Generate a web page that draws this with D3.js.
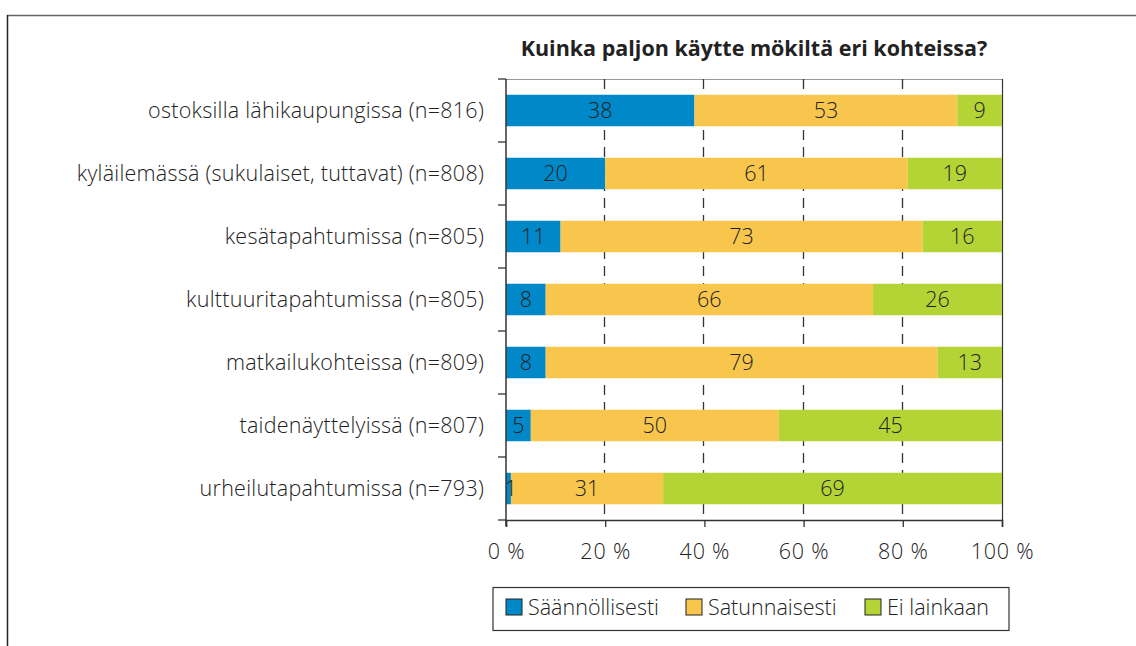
<!DOCTYPE html>
<html>
<head>
<meta charset="utf-8">
<script src="https://cdn.jsdelivr.net/npm/d3@7"></script>
<style>
  body { margin: 0; background: #fff; }
  svg { display: block; font-family: "Open Sans", "Noto Sans", sans-serif; }
</style>
</head>
<body>
<svg id="chart" width="1136" height="646"></svg>
<script>
// Kuinka paljon käytte mökiltä eri kohteissa? -- stacked 100 % bars

var title = "Kuinka paljon käytte mökiltä eri kohteissa?";

var categories = [
  "ostoksilla lähikaupungissa (n=816)",
  "kyläilemässä (sukulaiset, tuttavat) (n=808)",
  "kesätapahtumissa (n=805)",
  "kulttuuritapahtumissa (n=805)",
  "matkailukohteissa (n=809)",
  "taidenäyttelyissä (n=807)",
  "urheilutapahtumissa (n=793)"
];

var seriesNames = ["Säännöllisesti", "Satunnaisesti", "Ei lainkaan"];
var saannollisesti = [38, 20, 11, 8, 8, 5, 1];
var satunnaisesti = [53, 61, 73, 66, 79, 50, 31];
var eiLainkaan = [9, 19, 16, 26, 13, 45, 69];

var xTicks = [0, 0.2, 0.4, 0.6, 0.8, 1];

var colors = ["#0088c9", "#f8c64d", "#b4d335"];

var svg = d3.select("#chart");

// outer frame (only top and left edges fall inside the picture)
svg.append("line").attr("x1", 7).attr("y1", 15.5).attr("x2", 1136).attr("y2", 15.5)
  .attr("stroke", "#666").attr("stroke-width", 1.5);
svg.append("line").attr("x1", 7.5).attr("y1", 15).attr("x2", 7.5).attr("y2", 646)
  .attr("stroke", "#222").attr("stroke-width", 1.5);

var plotL = 506, plotR = 1002, plotT = 79, plotB = 520;
var labelSize = 21.5, labelWeight = 300, labelSpacing = 0.25;

var rows = categories.map(function(c, i) {
  var r = { cat: c };
  r[seriesNames[0]] = saannollisesti[i];
  r[seriesNames[1]] = satunnaisesti[i];
  r[seriesNames[2]] = eiLainkaan[i];
  return r;
});

var stacked = d3.stack().keys(seriesNames).offset(d3.stackOffsetExpand)(rows);

var x = d3.scaleLinear().domain([0, 1]).range([plotL, plotR]);
var y = d3.scaleBand().domain(categories).range([plotT, plotB]).paddingInner(0.5).paddingOuter(0.25);
var color = d3.scaleOrdinal().domain(seriesNames).range(colors);

// plot frame top / right
svg.append("line").attr("x1", plotL).attr("x2", plotR).attr("y1", plotT + 0.5).attr("y2", plotT + 0.5)
  .attr("stroke", "#999").attr("stroke-width", 1);
svg.append("line").attr("x1", plotR + 0.5).attr("x2", plotR + 0.5).attr("y1", plotT).attr("y2", plotB)
  .attr("stroke", "#333").attr("stroke-width", 1.2);

// dashed gridlines
svg.append("g").selectAll("line").data(xTicks.slice(1, -1)).enter().append("line")
  .attr("x1", function(d) { return Math.round(x(d)) - 0.5; })
  .attr("x2", function(d) { return Math.round(x(d)) - 0.5; })
  .attr("y1", plotT).attr("y2", plotB)
  .attr("stroke", "#333").attr("stroke-width", 1.3)
  .attr("stroke-dasharray", "10,7");

// bars
var layers = svg.append("g").selectAll("g").data(stacked).enter().append("g")
  .attr("fill", function(d) { return color(d.key); });

layers.selectAll("rect").data(function(d) { return d; }).enter().append("rect")
  .attr("x", function(d) { return x(d[0]); })
  .attr("width", function(d) { return x(d[1]) - x(d[0]); })
  .attr("y", function(d) { return y(d.data.cat); })
  .attr("height", y.bandwidth());

// value labels
stacked.forEach(function(s) {
  svg.append("g").selectAll("text").data(s).enter().append("text")
    .attr("x", function(d) { return Math.max(x((d[0] + d[1]) / 2), plotL + 5); })
    .attr("y", function(d) { return y(d.data.cat) + y.bandwidth() / 2; })
    .attr("dy", "0.36em")
    .attr("text-anchor", "middle")
    .attr("font-size", labelSize)
    .attr("font-weight", labelWeight)
    .attr("fill", "#222")
    .text(function(d) { return d.data[s.key]; });
});

// y axis with ticks at band edges
var yAxis = svg.append("g");
yAxis.append("line").attr("x1", plotL).attr("x2", plotL).attr("y1", plotT).attr("y2", plotB + 6)
  .attr("stroke", "#333").attr("stroke-width", 1.5);
var edges = d3.range(categories.length + 1).map(function(i) { return plotT + i * y.step(); });
yAxis.selectAll("line.tick").data(edges).enter().append("line").attr("class", "tick")
  .attr("x1", plotL - 8).attr("x2", plotL).attr("y1", function(d) { return d; }).attr("y2", function(d) { return d; })
  .attr("stroke", "#333").attr("stroke-width", 1.3);
yAxis.selectAll("text").data(categories).enter().append("text")
  .attr("x", 484)
  .attr("y", function(d) { return y(d) + y.bandwidth() / 2; })
  .attr("dy", "0.36em")
  .attr("text-anchor", "end")
  .attr("font-size", labelSize)
  .attr("font-weight", labelWeight)
  .attr("letter-spacing", labelSpacing)
  .attr("fill", "#222")
  .text(function(d) { return d; });

// x axis
var xAxis = svg.append("g").attr("transform", "translate(0," + plotB + ")")
  .call(d3.axisBottom(x).tickValues(xTicks).tickSize(7).tickPadding(17)
    .tickFormat(function(d) { return Math.round(d * 100) + " %"; }));
xAxis.select(".domain").attr("stroke", "#333").attr("stroke-width", 1.5);
xAxis.selectAll(".tick line").attr("stroke", "#333").attr("stroke-width", 1.3);
xAxis.selectAll("text").attr("font-size", labelSize).attr("font-weight", labelWeight)
  .attr("letter-spacing", 0.8)
  .attr("fill", "#222").attr("font-family", "Open Sans, Noto Sans, sans-serif");

// title
svg.append("text").attr("x", (plotL + plotR) / 2).attr("y", 56)
  .attr("text-anchor", "middle").attr("font-size", 21.5).attr("font-weight", "bold")
  .attr("fill", "#222").text(title);

// legend
var legend = svg.append("g");
legend.append("rect").attr("x", 493).attr("y", 587.5).attr("width", 516).attr("height", 43)
  .attr("fill", "none").attr("stroke", "#333").attr("stroke-width", 1.2);
var legendX = [506, 686, 865];
var items = legend.selectAll("g").data(seriesNames).enter().append("g")
  .attr("transform", function(d, i) { return "translate(" + legendX[i] + ",599)"; });
items.append("rect").attr("width", 16).attr("height", 16)
  .attr("fill", function(d) { return color(d); }).attr("stroke", "#222").attr("stroke-width", 1);
items.append("text").attr("x", 22).attr("y", 8).attr("dy", "0.36em")
  .attr("font-size", labelSize).attr("font-weight", labelWeight)
  .attr("fill", "#222").text(function(d) { return d; });
</script>
</body>
</html>
